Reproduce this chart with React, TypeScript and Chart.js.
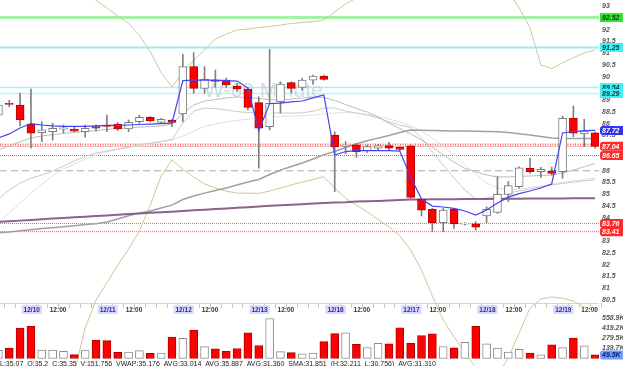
import React, { useEffect, useRef } from 'react';
import { Chart, registerables } from 'chart.js';
Chart.register(...registerables);

// ---- data (60 minute bars, 12/09 .. 12/19) ----
const opens = [88.37, 88.87, 88.80, 87.99, 87.62, 87.66, 87.77, 87.78, 87.66, 87.88, 87.95, 87.99, 87.78, 88.09, 88.28, 88.06, 88.16, 88.42, 90.43, 89.51, 89.86, 89.86, 89.61, 89.48, 88.90, 87.88, 88.94, 89.75, 89.55, 89.86, 90.03, 87.52, 87.04, 87.10, 86.86, 86.96, 87.07, 87.00, 87.06, 84.79, 84.36, 83.79, 84.36, 83.73, 83.74, 84.08, 84.23, 85.00, 85.32, 86.11, 85.96, 86.00, 85.96, 88.23, 87.57, 87.62];
const highs = [88.85, 89.00, 89.31, 89.48, 88.09, 88.02, 87.95, 87.88, 87.95, 87.95, 88.37, 88.05, 88.16, 88.37, 88.31, 88.23, 88.19, 90.96, 91.03, 90.43, 90.29, 89.94, 89.72, 89.55, 89.15, 91.17, 89.79, 89.79, 89.94, 90.07, 90.07, 87.66, 87.24, 87.17, 87.10, 87.13, 87.21, 87.03, 87.10, 84.83, 84.40, 84.40, 84.40, 83.80, 83.83, 84.47, 85.75, 85.54, 86.17, 86.53, 86.15, 86.15, 88.33, 88.76, 88.19, 87.65];
const lows = [88.30, 88.73, 87.91, 86.96, 87.24, 87.31, 87.61, 87.66, 87.43, 87.69, 87.66, 87.71, 87.66, 88.02, 88.09, 88.02, 87.88, 88.09, 89.30, 89.30, 89.55, 89.55, 89.37, 88.59, 86.11, 87.74, 88.45, 89.32, 89.43, 89.68, 89.86, 85.11, 86.72, 86.57, 86.78, 86.89, 86.86, 86.86, 84.76, 84.08, 83.41, 83.41, 83.55, 83.70, 83.48, 83.79, 84.19, 84.69, 85.26, 85.89, 85.72, 85.82, 85.68, 87.45, 87.03, 86.96];
const closes = [88.80, 88.83, 88.16, 87.60, 87.74, 87.81, 87.83, 87.69, 87.81, 87.81, 87.89, 87.78, 88.06, 88.28, 88.12, 88.19, 88.06, 90.43, 89.51, 89.89, 89.80, 89.65, 89.48, 88.70, 87.81, 88.87, 89.69, 89.51, 89.86, 90.03, 89.89, 87.03, 87.09, 86.81, 87.03, 87.07, 86.96, 86.91, 84.87, 84.33, 83.79, 84.33, 83.74, 83.77, 83.60, 84.36, 85.00, 85.37, 86.13, 85.96, 86.06, 85.89, 88.23, 87.60, 87.69, 87.04];
const volumes = [113e3, 145e3, 425e3, 452e3, 118e3, 118e3, 100e3, 54e3, 118e3, 258e3, 249e3, 86e3, 91e3, 109e3, 72e3, 77e3, 299e3, 281e3, 398e3, 167e3, 136e3, 100e3, 140e3, 357e3, 181e3, 558.9e3, 95e3, 81e3, 64e3, 77e3, 235e3, 348e3, 357e3, 199e3, 154e3, 213e3, 204e3, 430e3, 213e3, 321e3, 344e3, 167e3, 149e3, 226e3, 448e3, 204e3, 145e3, 91e3, 127e3, 77e3, 50e3, 190e3, 154e3, 285e3, 177e3, 49.5e3];

const emaFast = [87.40, 87.57, 87.82, 88.01, 87.95, 87.91, 87.89, 87.89, 87.89, 87.91, 87.93, 87.93, 87.95, 87.97, 87.99, 88.01, 88.03, 89.84, 89.86, 89.86, 89.86, 89.84, 89.82, 89.52, 87.70, 88.86, 88.88, 88.93, 88.97, 89.10, 89.23, 86.67, 86.82, 86.86, 86.86, 86.86, 86.86, 86.84, 85.74, 84.80, 84.50, 84.46, 84.40, 84.29, 84.12, 84.33, 84.63, 84.88, 85.03, 85.14, 85.27, 85.44, 87.61, 87.67, 87.71, 87.72];
const smaDark = [83.36, 83.40, 83.45, 83.49, 83.54, 83.58, 83.62, 83.66, 83.71, 83.75, 83.82, 83.95, 84.09, 84.20, 84.29, 84.42, 84.54, 84.78, 84.93, 85.05, 85.16, 85.27, 85.40, 85.52, 85.63, 85.84, 86.03, 86.18, 86.33, 86.50, 86.69, 86.82, 86.99, 87.15, 87.28, 87.39, 87.50, 87.63, 87.74, 87.73, 87.71, 87.70, 87.69, 87.69, 87.68, 87.67, 87.66, 87.63, 87.58, 87.52, 87.46, 87.40, 87.37, 87.37, 87.37, 87.37];
const smaPurple = [83.83, 83.85, 83.88, 83.91, 83.94, 83.97, 83.99, 84.02, 84.05, 84.08, 84.10, 84.13, 84.16, 84.18, 84.21, 84.24, 84.26, 84.29, 84.32, 84.34, 84.37, 84.40, 84.43, 84.45, 84.48, 84.51, 84.53, 84.56, 84.58, 84.61, 84.63, 84.65, 84.66, 84.69, 84.70, 84.72, 84.74, 84.76, 84.78, 84.78, 84.79, 84.79, 84.79, 84.80, 84.80, 84.80, 84.81, 84.81, 84.81, 84.82, 84.82, 84.82, 84.82, 84.83, 84.83, 84.83];
const avgA = [86.89, 87.06, 87.23, 87.40, 87.48, 87.54, 87.59, 87.63, 87.67, 87.71, 87.76, 87.80, 87.83, 87.86, 87.88, 87.91, 87.99, 88.44, 88.80, 88.97, 89.03, 89.10, 89.14, 89.12, 89.08, 89.03, 89.01, 89.05, 89.10, 89.14, 89.12, 88.99, 88.82, 88.65, 88.50, 88.29, 88.03, 87.80, 87.57, 87.31, 87.01, 86.67, 86.37, 86.10, 85.95, 85.82, 85.74, 85.74, 85.76, 85.78, 85.80, 85.82, 85.91, 86.03, 86.18, 86.31];
const avgB = [84.80, 85.18, 85.48, 85.69, 85.82, 85.99, 86.20, 86.42, 86.61, 86.76, 86.84, 86.93, 87.01, 87.10, 87.18, 87.25, 87.33, 88.03, 88.54, 88.67, 88.65, 88.59, 88.52, 88.48, 88.46, 88.46, 88.46, 88.46, 88.46, 88.54, 88.67, 88.67, 88.54, 88.46, 88.37, 88.25, 88.08, 87.95, 87.84, 87.40, 86.80, 86.25, 85.69, 85.18, 84.80, 84.84, 84.93, 85.06, 85.14, 85.23, 85.31, 85.40, 85.46, 85.52, 85.57, 85.61];
const avgC = [83.82, 84.20, 84.63, 85.05, 85.44, 85.78, 86.08, 86.29, 86.50, 86.67, 86.80, 86.91, 86.99, 87.08, 87.14, 87.23, 87.31, 87.48, 87.69, 87.89, 87.99, 88.08, 88.14, 88.20, 88.25, 88.29, 88.31, 88.33, 88.35, 88.37, 88.42, 88.46, 88.48, 88.46, 88.40, 88.31, 88.20, 88.08, 87.91, 87.69, 87.40, 87.05, 86.67, 86.25, 85.86, 85.48, 85.27, 85.18, 85.23, 85.29, 85.35, 85.44, 85.50, 85.57, 85.63, 85.69];
const bandUpper = [97.10, 96.67, 96.25, 95.74, 95.31, 94.89, 94.46, 94.03, 93.61, 93.25, 92.93, 92.59, 92.27, 91.76, 91.06, 90.18, 89.57, 90.20, 90.71, 91.14, 91.61, 91.82, 91.99, 92.03, 92.10, 92.14, 92.20, 92.27, 92.31, 92.35, 92.42, 92.76, 93.10, 93.35, 93.69, 94.12, 94.54, 94.97, 95.61, 96.03, 96.33, 96.46, 96.33, 96.03, 95.61, 95.06, 94.46, 93.65, 92.93, 92.08, 90.50, 90.35, 90.59, 90.82, 91.01, 91.14];
const bandLower = [72.84, 73.27, 73.91, 74.54, 75.18, 75.82, 76.59, 77.44, 79.31, 80.50, 81.23, 81.99, 82.67, 83.44, 84.55, 85.78, 86.46, 86.06, 85.74, 85.44, 85.27, 85.14, 85.05, 85.05, 85.04, 85.14, 85.27, 85.40, 85.52, 85.63, 85.75, 85.27, 84.84, 84.54, 84.25, 83.93, 83.61, 83.23, 82.63, 81.78, 80.67, 79.65, 78.93, 78.29, 77.61, 77.10, 77.31, 78.03, 79.10, 80.16, 80.54, 80.63, 80.58, 80.46, 80.20, 79.99];

const dateLabels = ['12/10', '12/11', '12/12', '12/13', '12/16', '12/17', '12/18', '12/19'];
const dateFirstBar = [3, 10, 17, 24, 31, 38, 45, 52];
const noonLabel = '12:00';
const priceTicks = [93, 92, 91.5, 91, 90.5, 90, 89, 88.5, 88, 87.5, 86, 85.5, 85, 84.5, 84, 83, 82.5, 82, 81.5, 81, 80.5];
const volumeTicks = [558.9e3, 419.2e3, 279.5e3, 139.7e3];
const levelValues = [92.52, 91.25, 89.54, 89.29, 87.12, 87.04, 86.65, 86.0, 83.76, 83.41];
const markerValues = [92.52, 91.25, 89.54, 89.29, 87.72, 87.04, 86.65, 83.76, 83.41];
const lastVolume = 49.5e3;
const watermark = 'W-60 Minute';
const infoLine = 'L:35.07  O:35.2  C:35.35  V:151,756  VWAP:35.176  AVG:33.014  AVG:35.887  AVG:31.360  SMA:31.851  (H:32.211  L:30.756)  AVG:31.310';

// ---- styles ----
const levelStyles = [
  { color: 'rgba(120,232,120,0.65)', width: 3, dash: [] },
  { color: 'rgba(90,225,235,0.6)', width: 2, dash: [] },
  { color: 'rgba(110,230,240,0.6)', width: 1.5, dash: [] },
  { color: 'rgba(130,235,245,0.55)', width: 1.5, dash: [] },
  { color: '#ff5a5a', width: 2, dash: [1, 1.5] },
  { color: '#f6b0b0', width: 1, dash: [] },
  { color: '#ff5a5a', width: 1, dash: [1, 1] },
  { color: '#a8a8a8', width: 1, dash: [7, 4] },
  { color: '#ff5a5a', width: 1, dash: [1, 1] },
  { color: '#ff5a5a', width: 1, dash: [1, 1] },
];
const markerStyles = [
  { bg: '#35e035', fg: '#0a3a0a', round: false },
  { bg: '#3ff0f5', fg: '#0a3a40', round: false },
  { bg: '#3ff0f5', fg: '#0a3a40', round: false },
  { bg: '#3ff0f5', fg: '#0a3a40', round: false },
  { bg: '#3232f0', fg: '#ffffff', round: true },
  { bg: '#ff2a2a', fg: '#ffffff', round: true },
  { bg: '#ff2a2a', fg: '#ffffff', round: true },
  { bg: '#ff2a2a', fg: '#ffffff', round: true },
  { bg: '#ff2a2a', fg: '#ffffff', round: true },
];

const FONT = '"Liberation Sans", Arial, sans-serif';

function roundRect(ctx: CanvasRenderingContext2D, x: number, y: number, w: number, h: number, r: number) {
  ctx.beginPath();
  ctx.moveTo(x + r, y);
  ctx.lineTo(x + w, y);
  ctx.lineTo(x + w, y + h);
  ctx.lineTo(x + r, y + h);
  ctx.arcTo(x, y + h, x, y + h - r, r);
  ctx.lineTo(x, y + r);
  ctx.arcTo(x, y, x + r, y, r);
  ctx.closePath();
}

const overlayPlugin = {
  id: 'overlay',
  beforeDatasetsDraw(chart: any) {
    const ctx: CanvasRenderingContext2D = chart.ctx;
    const ys = chart.scales.y;
    const xs = chart.scales.x;
    const area = chart.chartArea;
    ctx.save();
    ctx.font = `21px ${FONT}`;
    ctx.fillStyle = 'rgba(205,205,205,0.75)';
    ctx.textBaseline = 'alphabetic';
    ctx.textAlign = 'left';
    ctx.fillText(watermark, 204, 97);
    levelValues.forEach((v, i) => {
      const st = levelStyles[i];
      const y = ys.getPixelForValue(v);
      ctx.beginPath();
      ctx.strokeStyle = st.color;
      ctx.lineWidth = st.width;
      ctx.setLineDash(st.dash);
      ctx.moveTo(area.left, y);
      ctx.lineTo(area.right, y);
      ctx.stroke();
    });
    ctx.setLineDash([]);
    const axisY = 303;
    ctx.strokeStyle = '#d6d6d6';
    ctx.lineWidth = 1;
    ctx.beginPath();
    ctx.moveTo(area.left, axisY + 0.5);
    ctx.lineTo(area.right, axisY + 0.5);
    ctx.stroke();
    ctx.strokeStyle = '#c8c8c8';
    for (let i = 0; i < closes.length; i++) {
      const x = Math.round(xs.getPixelForValue(i + 0.5)) + 0.5;
      ctx.beginPath();
      ctx.moveTo(x, axisY);
      ctx.lineTo(x, axisY + 5);
      ctx.stroke();
    }
    ctx.font = `bold 6.5px ${FONT}`;
    ctx.textAlign = 'center';
    ctx.textBaseline = 'middle';
    dateLabels.forEach((lab, k) => {
      const x = xs.getPixelForValue(dateFirstBar[k]) + 0.8;
      const w = ctx.measureText(lab).width + 4;
      ctx.fillStyle = '#d9d9ff';
      ctx.fillRect(x - w / 2, 305, w, 9);
      ctx.fillStyle = '#2c2c8c';
      ctx.fillText(lab, x, 310);
      const xn = xs.getPixelForValue(dateFirstBar[k] + 2.5);
      ctx.fillStyle = '#333333';
      ctx.fillText(noonLabel, xn, 310);
    });
    ctx.restore();
  },
  afterDraw(chart: any) {
    const ctx: CanvasRenderingContext2D = chart.ctx;
    const ys = chart.scales.y;
    const yv = chart.scales.yv;
    ctx.save();
    ctx.font = `italic bold 7px ${FONT}`;
    ctx.textBaseline = 'middle';
    ctx.textAlign = 'left';
    markerValues.forEach((v, i) => {
      const st = markerStyles[i];
      const y = ys.getPixelForValue(v);
      ctx.fillStyle = st.bg;
      if (st.round) {
        roundRect(ctx, 600, y - 4.5, 23, 9, 3);
        ctx.fill();
      } else {
        ctx.fillRect(600, y - 4.5, 23, 9);
      }
      ctx.fillStyle = st.fg;
      ctx.fillText(v.toFixed(2), 602, y + 0.5);
    });
    ctx.fillStyle = '#555555';
    volumeTicks.forEach((v) => {
      const y = yv.getPixelForValue(v);
      ctx.fillText((v / 1000).toFixed(1) + 'K', 602, y);
    });
    const yl = yv.getPixelForValue(lastVolume);
    ctx.fillStyle = '#6d9cff';
    roundRect(ctx, 600, yl - 4.5, 23, 9, 3);
    ctx.fill();
    ctx.fillStyle = '#0a1f66';
    ctx.fillText((lastVolume / 1000).toFixed(1) + 'K', 602, yl + 0.5);
    ctx.font = `7px ${FONT}`;
    ctx.fillStyle = '#222222';
    ctx.textBaseline = 'top';
    ctx.fillText(infoLine, 0, 361);
    ctx.restore();
  },
};

export default function App() {
  const ref = useRef<HTMLCanvasElement | null>(null);
  useEffect(() => {
    if (!ref.current) return;
    const idx = closes.map((_, i) => i);
    const up = closes.map((c, i) => c >= opens[i]);
    const fill = up.map((u) => (u ? '#ffffff' : '#ff0000'));
    const edge = up.map((u) => (u ? '#7c7c7c' : '#b80000'));
    const volEdge = up.map((u) => (u ? '#8c8c8c' : '#b00000'));
    const pts = (arr: number[]) => arr.map((v, i) => ({ x: i, y: v }));
    const line = (label: string, arr: number[], color: string, width: number, order: number) => ({
      type: 'line' as const,
      label,
      data: pts(arr),
      borderColor: color,
      borderWidth: width,
      pointRadius: 0,
      tension: 0,
      fill: false,
      yAxisID: 'y',
      order,
    });
    const chart = new Chart(ref.current, {
      type: 'bar',
      data: {
        datasets: [
          line('Upper band', bandUpper, '#cec895', 1, 40),
          line('Lower band', bandLower, '#cec895', 1, 39),
          line('Avg C', avgC, '#e0e0e0', 1, 38),
          line('Avg B', avgB, '#cacaca', 1, 37),
          line('Avg A', avgA, '#bdbdbd', 1, 36),
          line('SMA', smaDark, '#a0a0a0', 1.5, 35),
          line('SMA long', smaPurple, '#8a628a', 2, 34),
          {
            type: 'bar',
            label: 'Volume',
            data: pts(volumes),
            yAxisID: 'yv',
            backgroundColor: fill,
            borderColor: volEdge,
            borderWidth: 1,
            borderSkipped: false,
            barThickness: 8,
            grouped: false,
            order: 30,
          } as any,
          {
            type: 'bar',
            label: 'Range',
            data: idx.map((i) => ({ x: i, y: [lows[i], highs[i]] })),
            yAxisID: 'y',
            backgroundColor: '#808080',
            borderWidth: 0,
            barThickness: 1,
            grouped: false,
            order: 10,
          } as any,
          {
            type: 'bar',
            label: 'Body',
            data: idx.map((i) => ({ x: i, y: [opens[i], closes[i]] })),
            yAxisID: 'y',
            backgroundColor: fill,
            borderColor: edge,
            borderWidth: 1,
            borderSkipped: false,
            barThickness: 8,
            grouped: false,
            order: 9,
          } as any,
          line('EMA', emaFast, '#4444f4', 1.2, 1),
        ] as any,
      },
      options: {
        responsive: false,
        animation: false,
        devicePixelRatio: 1,
        layout: { padding: 0 },
        plugins: {
          legend: { display: false },
          tooltip: { enabled: false },
          title: { display: false },
        },
        scales: {
          x: {
            type: 'linear',
            min: 0.148,
            max: 55.36,
            display: false,
            offset: false,
            grid: { display: false },
          },
          y: {
            type: 'linear',
            position: 'right',
            min: 77.694,
            max: 93.268,
            grid: { display: false, drawTicks: false },
            border: { display: false },
            afterBuildTicks: (s: any) => {
              s.ticks = priceTicks.map((v) => ({ value: v }));
            },
            afterFit: (s: any) => {
              s.width = 24;
              s.paddingTop = 0;
              s.paddingBottom = 0;
            },
            ticks: {
              autoSkip: false,
              padding: 3,
              color: '#555555',
              font: { size: 7, style: 'italic', weight: 'bold', family: FONT },
              callback: (v: any) => String(v),
            },
          },
          yv: {
            type: 'linear',
            position: 'right',
            display: false,
            min: -104.8e3,
            max: 5008e3,
          },
        },
      } as any,
      plugins: [overlayPlugin],
    });
    return () => chart.destroy();
  }, []);
  return (
    <div style={{ position: 'fixed', left: 0, top: 0, width: 623, height: 366, background: '#ffffff' }}>
      <canvas ref={ref} width={623} height={366} style={{ display: 'block' }} />
    </div>
  );
}
